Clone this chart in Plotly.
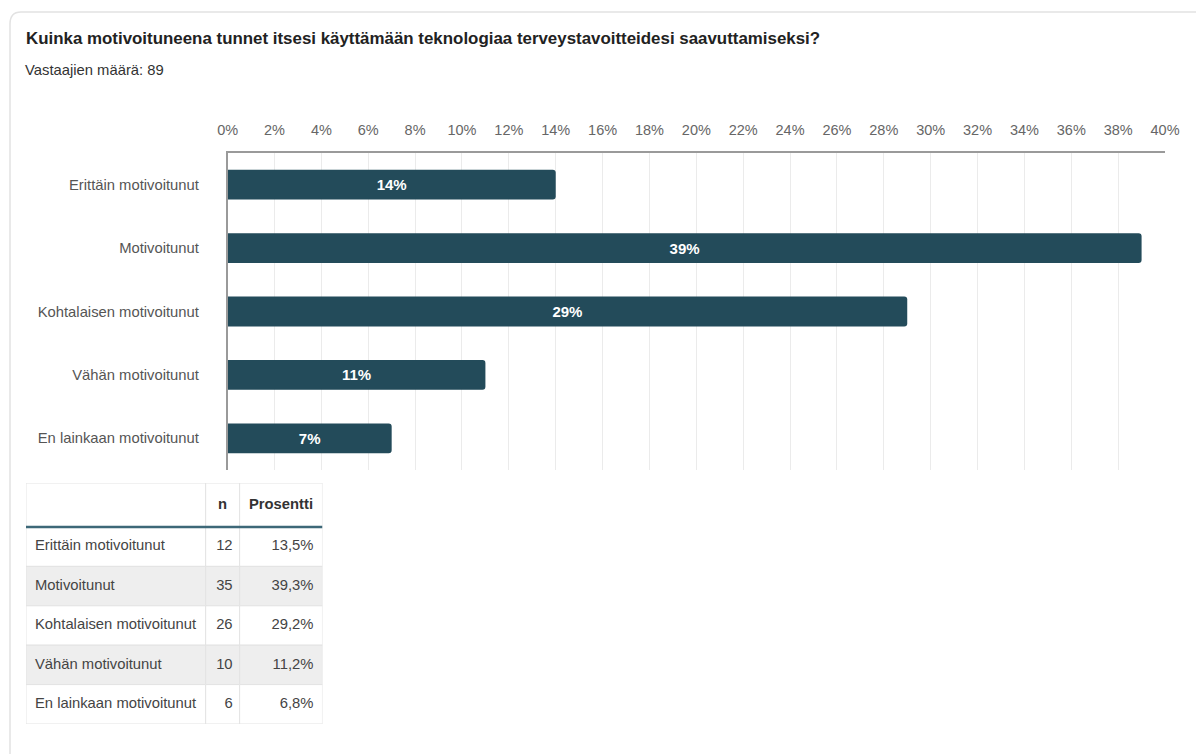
import plotly.graph_objects as go

W, H = 1196, 754

# Survey answers (bars use the rounded shares shown in the labels)
categories = [
    "Erittäin motivoitunut",
    "Motivoitunut",
    "Kohtalaisen motivoitunut",
    "Vähän motivoitunut",
    "En lainkaan motivoitunut",
]
bar_percent = [14, 39, 29, 11, 7]
counts = [12, 35, 26, 10, 6]
table_percent = ["13,5%", "39,3%", "29,2%", "11,2%", "6,8%"]
table_headers = ["", "n", "Prosentti"]
x_ticks = list(range(0, 41, 2))
x_tick_labels = [f"{t}%" for t in x_ticks]

title = "Kuinka motivoituneena tunnet itsesi käyttämään teknologiaa terveystavoitteidesi saavuttamiseksi?"
subtitle = "Vastaajien määrä: 89"

BAR = "#234b5a"
FONT = "Liberation Sans, Arial, Helvetica, sans-serif"
GRID_LINE = "#e3e3e3"

# usable page band for horizontal placement (left inset, width in px)
INSET_X, USABLE_W = 9, 1173


def px_x(p):
    return max(0.0, (p - INSET_X) / USABLE_W)


def px_y(p):
    return 1 - p / H


fig = go.Figure()

# ---- bar chart -------------------------------------------------------------
fig.add_trace(go.Bar(
    y=categories,
    x=bar_percent,
    orientation="h",
    marker=dict(color=BAR, line=dict(width=0), cornerradius=3),
    text=[f"{v}%" for v in bar_percent],
    textposition="inside",
    insidetextanchor="middle",
    textangle=0,
    textfont=dict(color="white", size=15, family=FONT, weight="bold"),
    hoverinfo="skip",
    showlegend=False,
))

# ---- summary table, laid out on its own pixel-unit axes (x2 / y2) ---------
col_widths = [180, 34, 83]
header_h = 44
row_h = 39.4
col_edges = [0]
for w in col_widths:
    col_edges.append(col_edges[-1] + w)
table_w = col_edges[-1]
table_h = header_h + row_h * len(categories)
row_top = [header_h + i * row_h for i in range(len(categories))]
row_mid = [t + row_h / 2 for t in row_top]
pad = 9

table_x0, table_y0 = 25, 483  # page position of the table's top-left corner

shapes = []
# header cells
for c in range(3):
    shapes.append(dict(type="rect", xref="x2", yref="y2", layer="below",
                       x0=col_edges[c], x1=col_edges[c + 1], y0=0, y1=header_h,
                       fillcolor="white", line=dict(color=GRID_LINE, width=1)))
# body cells with alternating fills
for r, top in enumerate(row_top):
    fill = "#ffffff" if r % 2 == 0 else "#eeeeee"
    for c in range(3):
        shapes.append(dict(type="rect", xref="x2", yref="y2", layer="below",
                           x0=col_edges[c], x1=col_edges[c + 1], y0=top, y1=top + row_h,
                           fillcolor=fill, line=dict(color=GRID_LINE, width=1)))
# header underline
shapes.append(dict(type="line", xref="x2", yref="y2", layer="above",
                   x0=0, x1=table_w, y0=header_h, y1=header_h,
                   line=dict(color="#3d6878", width=2.5)))

cell_font = dict(family=FONT, size=14.8, color="#444444")
# header texts
fig.add_trace(go.Scatter(
    x=[(col_edges[c] + col_edges[c + 1]) / 2 for c in (1, 2)],
    y=[header_h / 2] * 2,
    text=[f"<b>{h}</b>" for h in table_headers[1:]],
    mode="text", textposition="middle center",
    textfont=dict(family=FONT, size=14.8, color="#333333"),
    xaxis="x2", yaxis="y2", hoverinfo="skip", showlegend=False, cliponaxis=False,
))
# category column (left aligned)
fig.add_trace(go.Scatter(
    x=[col_edges[0] + pad] * len(categories), y=row_mid, text=categories,
    mode="text", textposition="middle right", textfont=cell_font,
    xaxis="x2", yaxis="y2", hoverinfo="skip", showlegend=False, cliponaxis=False,
))
# n column (right aligned)
fig.add_trace(go.Scatter(
    x=[col_edges[2] - 7] * len(counts), y=row_mid, text=[str(v) for v in counts],
    mode="text", textposition="middle left", textfont=cell_font,
    xaxis="x2", yaxis="y2", hoverinfo="skip", showlegend=False, cliponaxis=False,
))
# percentage column (right aligned)
fig.add_trace(go.Scatter(
    x=[col_edges[3] - pad] * len(table_percent), y=row_mid, text=table_percent,
    mode="text", textposition="middle left", textfont=cell_font,
    xaxis="x2", yaxis="y2", hoverinfo="skip", showlegend=False, cliponaxis=False,
))

shapes.insert(0, dict(
    # card outline (open at bottom/right)
    type="path", xref="paper", yref="paper",
    path=f"M {px_x(8)} {px_y(760)} L {px_x(8)} {px_y(24)} "
         f"Q {px_x(8)} {px_y(12)} {px_x(20)} {px_y(12)} L {px_x(1220)} {px_y(12)}",
    line=dict(color="#e2e2e2", width=1.5)))

fig.update_layout(
    width=W,
    height=H,
    autosize=False,
    margin=dict(l=0, r=0, t=0, b=0),
    paper_bgcolor="white",
    plot_bgcolor="rgba(0,0,0,0)",
    font=dict(family=FONT),
    bargap=0.53,
    xaxis=dict(
        domain=[px_x(227), px_x(1166)],
        range=[0, 40],
        side="top",
        tickvals=x_ticks,
        ticktext=x_tick_labels,
        tickfont=dict(size=14.5, color="#666666"),
        ticks="",
        ticklabelstandoff=10,
        showgrid=True,
        gridcolor="#ebebeb",
        gridwidth=1,
        zeroline=False,
        showline=True,
        linecolor="#9a9a9a",
        linewidth=1.5,
        fixedrange=True,
    ),
    yaxis=dict(
        domain=[px_y(470), px_y(153)],
        categoryorder="array",
        categoryarray=categories[::-1],
        tickfont=dict(size=14.8, color="#555555"),
        ticks="",
        ticklabelstandoff=24,
        showline=True,
        linecolor="#9a9a9a",
        linewidth=1.5,
        showgrid=False,
        zeroline=False,
        fixedrange=True,
    ),
    xaxis2=dict(
        domain=[px_x(table_x0), px_x(table_x0 + table_w)],
        range=[0, table_w],
        anchor="y2",
        visible=False,
        fixedrange=True,
    ),
    yaxis2=dict(
        domain=[px_y(table_y0 + table_h), px_y(table_y0)],
        range=[table_h, 0],
        anchor="x2",
        visible=False,
        fixedrange=True,
    ),
    annotations=[
        dict(text=f"<b>{title}</b>", x=px_x(23), y=px_y(38), xref="paper", yref="paper",
             xanchor="left", yanchor="middle", showarrow=False,
             font=dict(size=16.9, color="#222222", family=FONT)),
        dict(text=subtitle, x=px_x(22), y=px_y(70), xref="paper", yref="paper",
             xanchor="left", yanchor="middle", showarrow=False,
             font=dict(size=14.8, color="#333333", family=FONT)),
    ],
    shapes=shapes,
)

fig.write_html(
    "out.html",
    config=dict(displayModeBar=False, responsive=False),
    post_script="document.body.style.margin='0';document.body.style.overflow='hidden';",
)
